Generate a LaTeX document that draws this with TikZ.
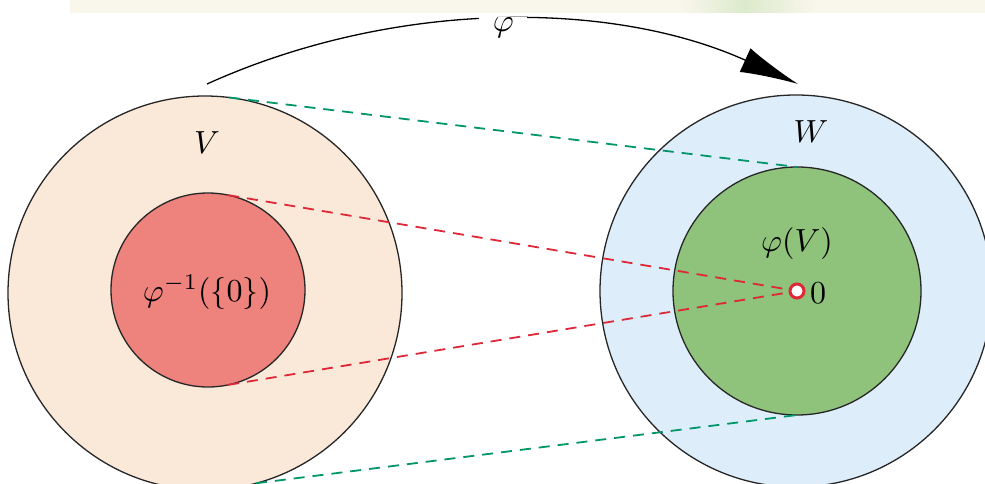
\documentclass[tikz,border=0pt]{standalone}
\usepackage{graphicx}
\usetikzlibrary{arrows.meta}
\definecolor{peach}{RGB}{250,232,216}
\definecolor{salmon}{RGB}{238,130,125}
\definecolor{skyb}{RGB}{221,238,250}
\definecolor{leaf}{RGB}{143,194,122}
\definecolor{dgreen}{RGB}{0,150,105}
\definecolor{dred}{RGB}{222,40,55}
\definecolor{bandc}{RGB}{249,246,236}
\definecolor{bandg}{RGB}{220,234,204}
\newcommand{\BigTxt}[1]{\scalebox{3.2}{#1}}
\tikzset{
  disc/.style={circle,draw=black!85,line width=1.3pt,inner sep=0pt,outer sep=0pt},
  gdash/.style={draw=dgreen,line width=1.8pt,dash pattern=on 11pt off 8pt},
  rdash/.style={draw=dred,line width=1.8pt,dash pattern=on 11pt off 8pt},
  lbl/.style={inner sep=1pt}
}
\begin{document}
\begin{tikzpicture}[x=1pt,y=-1pt]
\useasboundingbox (0,0) rectangle (985,484);
% faint band at top
\fill[bandc] (70,0) rectangle (985,13);
\shade[left color=bandc,right color=bandg] (680,0) rectangle (745,13);
\shade[left color=bandg,right color=bandc] (745,0) rectangle (815,13);
% circles
\node[disc,fill=peach,minimum size=394pt] (Vout) at (205,293) {};
\node[disc,fill=salmon,minimum size=194pt] (Vin) at (208,290) {};
\node[disc,fill=skyb,minimum size=392pt] (Wout) at (796,291) {};
\node[disc,fill=leaf,minimum size=248pt] (Win) at (797,291) {};
\coordinate (zero) at (797,291);
% dashed connectors
\draw[gdash] (Vout.83) -- (Win.90);
\draw[gdash] (Vout.-75) -- (Win.-90);
\draw[rdash] (Vin.78) -- (zero);
\draw[rdash] (Vin.-78) -- (zero);
\node[circle,draw=dred,fill=white,line width=3pt,minimum size=14pt,inner sep=0pt] (pt) at (zero) {};
% labels
\node[lbl] (lV) at (207,143) {\BigTxt{$V$}};
\node[lbl] (lW) at (811,132) {\BigTxt{$W$}};
\node[lbl] (lpre) at (207,292) {\BigTxt{$\varphi^{-1}(\{0\})$}};
\node[lbl] (lphiV) at (797,243) {\BigTxt{$\varphi(V)$}};
\node[lbl,anchor=west] (l0) at (809,293) {\BigTxt{$0$}};
% arrow phi
\coordinate (a1) at (207,84);
\coordinate (a2) at (798,84);
\draw[line width=1.3pt,-{Latex[length=58pt,width=26pt]}] (a1) .. controls (395,-1) and (612,0) .. node[pos=0.5,fill=white,inner sep=0pt,minimum width=48pt,minimum height=8pt] (gap) {} (a2);
\node[lbl] (lphi) at ([yshift=-7pt]gap.center) {\BigTxt{$\varphi$}};
\end{tikzpicture}
\end{document}
